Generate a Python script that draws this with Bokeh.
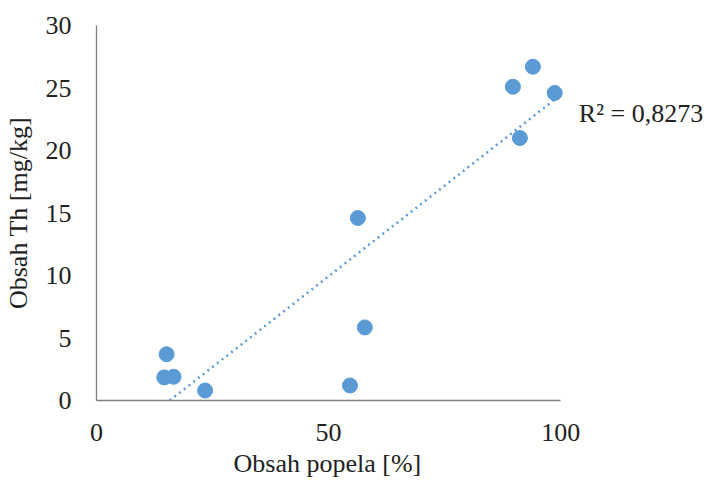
import numpy as np
from bokeh.plotting import figure
from bokeh.models import Range1d, FixedTicker, Title
from bokeh.core.properties import value
from bokeh.embed import file_html
from bokeh.resources import INLINE

# Data
ash_pct = [15.1, 14.6, 16.6, 23.4, 54.6, 56.3, 57.8, 89.7, 94.0, 91.2, 98.7]
th_mgkg = [3.7, 1.85, 1.9, 0.8, 1.2, 14.6, 5.85, 25.1, 26.7, 21.0, 24.6]
x_ticks = [0, 50, 100]
y_ticks = [0, 5, 10, 15, 20, 25, 30]
x_title = "Obsah popela [%]"
y_title = "Obsah Th [mg/kg]"
r2_text = "R² = 0,8273"

FONT = "Liberation Serif"
BLUE = "#5B9BD5"
FS = "26px"
TXT = "#222222"

# frame: x = 0 at 95 px, x = 100 at 560 px; extended to 705 px for the R² label
X_END = 100 * (705 - 95) / (560 - 95)

p = figure(width=710, height=481, output_backend="svg", toolbar_location=None,
           x_range=Range1d(0, X_END), y_range=Range1d(0, 30),
           min_border_left=95, min_border_right=5, min_border_top=25,
           min_border_bottom=81)
p.outline_line_color = None
p.grid.grid_line_color = None
p.background_fill_color = "white"
p.border_fill_color = "white"

for ax in (p.xaxis[0], p.yaxis[0]):
    ax.axis_line_color = "#7f7f7f"
    ax.axis_line_width = 1.3
    ax.major_tick_line_color = None
    ax.minor_tick_line_color = None
    ax.major_tick_out = 0
    ax.major_tick_in = 0
    ax.major_label_text_font = FONT
    ax.major_label_text_font_size = FS
    ax.major_label_text_color = TXT
    ax.axis_label_text_font = FONT
    ax.axis_label_text_font_size = FS
    ax.axis_label_text_font_style = "normal"
    ax.axis_label_text_color = TXT

p.xaxis[0].bounds = (0, 100)
p.xaxis[0].ticker = FixedTicker(ticks=x_ticks)
p.yaxis[0].ticker = FixedTicker(ticks=y_ticks)
p.yaxis[0].axis_label = y_title
p.xaxis[0].major_label_standoff = 23
p.yaxis[0].major_label_standoff = 25
p.yaxis[0].axis_label_standoff = 10

# x-axis title centred under the 0..100 part of the frame
p.add_layout(Title(text=x_title, align="left", offset=137, text_font=FONT,
                   text_font_size=FS, text_font_style="normal",
                   text_color=TXT, standoff=7), "below")

# Linear trendline (least squares), clipped at y = 0 as in the original
xa = np.array(ash_pct)
ya = np.array(th_mgkg)
slope, intercept = np.polyfit(xa, ya, 1)
x_start = max(xa.min(), -intercept / slope)
x_end = xa.max()
tx = [x_start, x_end]
ty = [slope * x_start + intercept, slope * x_end + intercept]
p.line(tx, ty, line_color=BLUE, line_width=2.5, line_dash="2 4")

p.scatter(ash_pct, th_mgkg, size=15, fill_color=BLUE, line_color=BLUE)

p.text(x=[103.9], y=[23.0], text=[r2_text], text_font=value(FONT),
       text_font_size=FS, text_color=TXT,
       text_baseline="middle", text_align="left")

open("out.html", "w").write(file_html(p, INLINE))
